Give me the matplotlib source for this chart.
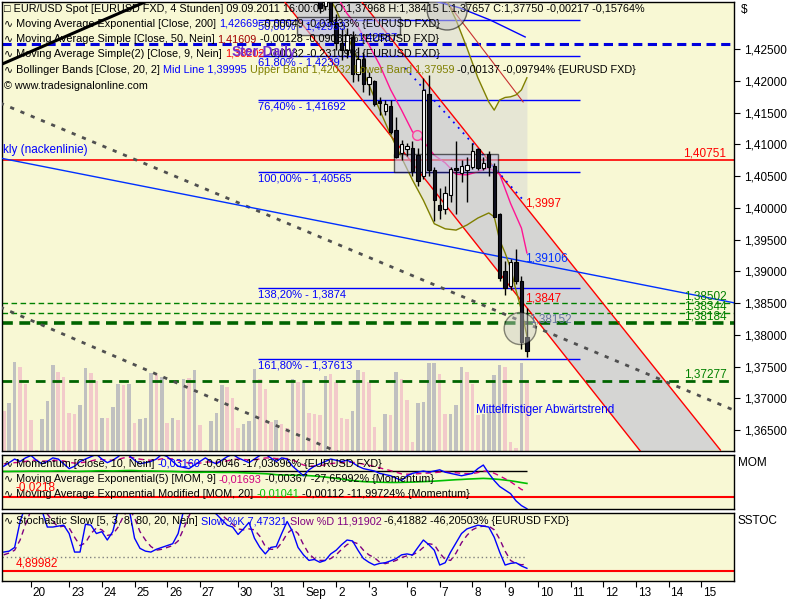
import numpy as np
import matplotlib
matplotlib.use("Agg")
from matplotlib import pyplot as plt
from matplotlib.patches import Ellipse, Polygon, Rectangle
from matplotlib.text import Annotation
from matplotlib.ticker import FuncFormatter

plt.rcParams['font.family'] = ['Liberation Sans', 'DejaVu Sans']

W, H = 800, 600
BG = '#f8f8d4'

# 4h candles, the last one is 09.09.2011 16:00
c_open = [1.4332, 1.4318, 1.4338, 1.4292, 1.4260, 1.4249, 1.4270, 1.4211, 1.4235, 1.4195,
          1.4200, 1.4168, 1.4152, 1.4160, 1.4122, 1.4086, 1.4092, 1.4095, 1.4083, 1.4050,
          1.4180, 1.4060, 1.4005, 1.3999, 1.4020, 1.4063, 1.4055, 1.4060, 1.4065, 1.4092,
          1.4063, 1.4085, 1.4066, 1.3990, 1.3900, 1.3877, 1.3915, 1.3885, 1.37968]
c_high = [1.4336, 1.4345, 1.4350, 1.4305, 1.4284, 1.4284, 1.4278, 1.4253, 1.4246, 1.4214,
          1.4202, 1.4175, 1.4170, 1.4170, 1.4143, 1.4107, 1.4102, 1.4106, 1.4095, 1.4205,
          1.4210, 1.4065, 1.4032, 1.4035, 1.4065, 1.4105, 1.4075, 1.4080, 1.4103, 1.4095,
          1.4080, 1.4090, 1.4070, 1.3992, 1.3916, 1.3920, 1.3935, 1.3892, 1.38415]
c_low = [1.4307, 1.4312, 1.4290, 1.4249, 1.4233, 1.4236, 1.4199, 1.4200, 1.4183, 1.4178,
         1.4160, 1.4146, 1.4146, 1.4117, 1.4078, 1.4075, 1.4082, 1.4050, 1.4035, 1.4045,
         1.4050, 1.3980, 1.3983, 1.3990, 1.4010, 1.3990, 1.4040, 1.4010, 1.4062, 1.4060,
         1.4060, 1.4050, 1.3985, 1.3885, 1.3862, 1.3870, 1.3880, 1.3778, 1.37657]
c_close = [1.4315, 1.4340, 1.4295, 1.4260, 1.4249, 1.4272, 1.4211, 1.4235, 1.4195, 1.4206,
           1.4163, 1.4166, 1.4163, 1.4119, 1.4080, 1.4100, 1.4098, 1.4058, 1.4043, 1.4185,
           1.4060, 1.4012, 1.3997, 1.4023, 1.4062, 1.4060, 1.4066, 1.4068, 1.4090, 1.4063,
           1.4070, 1.4065, 1.3986, 1.3890, 1.3874, 1.3915, 1.3885, 1.3788, 1.37750]

volume = [40, 48, 89, 84, 67, 31, 1, 32, 50, 86,
          79, 74, 38, 37, 46, 83, 78, 70, 33, 33,
          44, 67, 66, 67, 28, 32, 33, 78, 77, 74,
          28, 33, 31, 72, 73, 81, 26, 1, 30, 38,
          66, 64, 53, 23, 27, 30, 82, 72, 62, 29, 31,
          27, 23, 72, 69, 69, 38, 37, 36, 75, 77,
          69, 33, 32, 40, 81, 79, 69, 24, 1, 37,
          36, 79, 72, 51, 9, 48, 49, 88, 88, 77,
          37, 37, 46, 84, 79, 67, 36, 37, 39, 76,
          86, 84, 9, 3, 88, 69]
vol_up = "pggppppggg" "ppppggppgp" "ggpgpgggpg" "pgpgpgppgg" "gpppgggpppg" \
         "ppgpgpppgp" "pppggppppg" "pgpppggggp" "pgggpppggg" "gpppgp"

# SMA 9 (pink)
sma_bars = [56, 58, 60, 62, 64, 66, 68, 70, 72, 74, 76, 78, 80, 82, 84, 86, 88, 90, 91]
sma_vals = [1.4336, 1.4306, 1.4285, 1.4257, 1.4225, 1.4186, 1.4154, 1.4120, 1.4105, 1.4083,
            1.4071, 1.4053, 1.4052, 1.4057, 1.4063, 1.4053, 1.4007, 1.3968, 1.3929]

# Bollinger Bands [20, 2]
bb_bars = [54, 56, 58, 60, 62, 64, 66, 68, 70, 72, 74, 76, 78, 80, 82, 84, 85, 86, 87, 88, 89, 90, 91]
bb_upper = [1.452, 1.451, 1.450, 1.449, 1.448, 1.4465, 1.445, 1.443, 1.441, 1.439, 1.4367, 1.4332,
            1.4296, 1.4252, 1.4205, 1.4167, 1.4154, 1.4170, 1.4174, 1.4175, 1.4178, 1.4186, 1.4205]
bb_lower = [1.4343, 1.4312, 1.4272, 1.4233, 1.4194, 1.4154, 1.4115, 1.4079, 1.4044, 1.4012, 1.3975,
            1.3967, 1.3965, 1.3973, 1.3984, 1.3992, 1.3986, 1.3949, 1.3929, 1.3905, 1.3870, 1.3839, 1.3798]

fib_pct = ["50,00%", "61,80%", "76,40%", "100,00%", "138,20%", "161,80%"]
fib_vals = [1.42953, 1.4239, 1.41692, 1.40565, 1.3874, 1.37613]
fib_txt = ["1,42953", "1,4239", "1,41692", "1,40565", "1,3874", "1,37613"]

green_levels = [1.38502, 1.38344, 1.38184, 1.37277]
red_level = 1.40751
blue_level = 1.42587

# trend lines, (bar, price) end points
chan_lo = [(46.26, 1.43278), (111.8, 1.36169)]
chan_hi = [(60.39, 1.43278), (126.5, 1.36184)]
dark_red = [(75.99, 1.43278), (90.31, 1.41669)]
neck = [(-5.69, 1.40786), (129.2, 1.38501)]
grey1 = [(-5.69, 1.41653), (128.9, 1.36815)]
grey2 = [(-5.69, 1.38438), (56.7, 1.36138)]
black_tl = [(-5.69, 1.42252), (21.84, 1.43278)]
blue_dots = [(68.65, 1.42204), (90.31, 1.40124)]
blue_arc_b = [73.24, 78.74, 84.25, 90.68]
blue_arc_p = [1.43278, 1.43150, 1.42961, 1.42693]

# momentum panel
mom = [0.004, 0.007, 0.010, 0.008, 0.011, 0.013, 0.009, 0.006, 0.008, 0.011, 0.010, 0.006, 0.002,
       0.004, 0.008, 0.010, 0.012, 0.014, 0.010, 0.007, 0.009, 0.012, 0.016, 0.013, 0.009, 0.006,
       0.007,
       0.008, 0.010, 0.014, 0.012, 0.008, 0.004, 0.003, 0.002, 0.005, 0.008, 0.011, 0.008, 0.006,
       0.009, 0.012, 0.014, 0.011, 0.009, 0.007, 0.010, 0.013, 0.014, 0.011, 0.008, 0.011, 0.010,
       0.004, 0.000, -0.004, 0.001, 0.004, 0.006, 0.008, 0.010, 0.009, 0.008, 0.009, 0.007, 0.004,
       0.002, 0.001,
       0.000, -0.002, -0.003, -0.004, -0.006, -0.008, -0.004, -0.002, -0.001, 0.000, -0.001, 0.000,
       0.001, -0.001, -0.002, -0.003, -0.004, -0.003, -0.002, 0.002, 0.005, -0.002, -0.008, -0.013,
       -0.016, -0.019, -0.025, -0.029, -0.0316]
mom_ema = [0.006, 0.0063, 0.0070, 0.0072, 0.0080, 0.0090, 0.0090, 0.0084, 0.0083, 0.0088, 0.0090,
           0.0084, 0.0072, 0.0066, 0.0069, 0.0075, 0.0084, 0.0095, 0.0096, 0.0091, 0.0091, 0.0097,
           0.0110, 0.0114, 0.0109, 0.0099, 0.0093,
           0.0090, 0.0092, 0.0102, 0.0106, 0.0101, 0.0089, 0.0077, 0.0066, 0.0063, 0.0066, 0.0075,
           0.0076, 0.0073, 0.0076, 0.0085, 0.0096, 0.0099, 0.0097, 0.0092, 0.0094, 0.0101, 0.0109,
           0.0110, 0.0104, 0.0105, 0.0104, 0.0091, 0.0073, 0.0050, 0.0042, 0.0042, 0.0045, 0.0052,
           0.0062, 0.0067, 0.0070, 0.0074, 0.0073, 0.0067, 0.0057, 0.0048,
           0.0038, 0.0026, 0.0014, 0.0003, -0.0010, -0.0024, -0.0027, -0.0026, -0.0023, -0.0019,
           -0.0017, -0.0014, -0.0009, -0.0009, -0.0011, -0.0015, -0.0020, -0.0022, -0.0022, -0.0013,
           0.0000, -0.0004, -0.0019, -0.0041, -0.0065, -0.0090, -0.0122, -0.0155, -0.01693]
mom_mod = [-0.0004, -0.0004, -0.0003, -0.0003, -0.0002, -0.0001, -0.0001, -0.0002, -0.0002, -0.0001,
           0.0000, 0.0000, -0.0002, -0.0003, -0.0003, -0.0002, -0.0001, 0.0001, 0.0002, 0.0001,
           0.0000, 0.0001, 0.0003, 0.0004, 0.0003, 0.0001, 0.0000,
           0.0000, -0.0001, -0.0002, -0.0003, -0.0004, -0.0006, -0.0008, -0.0010, -0.0011, -0.0011,
           -0.0010, -0.0010, -0.0011, -0.0012, -0.0012, -0.0012, -0.0013, -0.0015, -0.0017, -0.0019,
           -0.0021, -0.0023, -0.0026, -0.0031, -0.0033, -0.0034, -0.0035, -0.0036, -0.0037, -0.0039,
           -0.0042, -0.0046, -0.0051, -0.0056, -0.0062, -0.0068, -0.0074, -0.0080, -0.0085, -0.0089,
           -0.0091,
           -0.0092, -0.0094, -0.0095, -0.0096, -0.0096, -0.0095, -0.0094, -0.0093, -0.0091, -0.0089,
           -0.0087, -0.0085, -0.0082, -0.0079, -0.0076, -0.0073, -0.0071, -0.0068, -0.0066, -0.0064,
           -0.0062, -0.0064, -0.0067, -0.0071, -0.0076, -0.0082, -0.0089, -0.0097, -0.01041]
mom_red = -0.0218

# stochastic panel
slow_k = [25, 26, 30, 58, 75, 78, 76, 70, 52, 52, 53, 54, 45, 25, 25, 55, 54, 45, 47, 38, 47, 70,
          75, 72, 40, 29, 26,
          25, 28, 30, 32, 34, 45, 70, 78, 80, 76, 72, 70, 66, 60, 54, 52, 44, 50, 57, 40, 30, 23,
          30, 31, 45, 58, 47, 30, 22, 16, 17, 14, 16, 23, 27, 33, 38, 37, 27, 18, 14,
          11, 12.8, 13.5, 15.5, 18, 22, 23, 21.8, 30, 38, 33, 27, 11, 13.5, 25, 35, 45, 50, 52,
          54, 53, 52, 41, 25, 11, 12.8, 13.5, 10, 7.47321]
slow_d = [22, 24, 27, 38, 55, 70, 76, 75, 66, 58, 52, 53, 51, 41, 32, 35, 45, 51, 49, 43, 44, 52,
          64, 72, 62, 47, 38,
          31, 27, 28, 30, 32, 37, 50, 64, 76, 78, 76, 73, 69, 65, 60, 55, 50, 49, 50, 49, 42, 31,
          28, 28, 35, 45, 50, 45, 33, 23, 18, 16, 16, 18, 22, 28, 33, 36, 34, 27, 22,
          19, 14, 12.5, 14, 16, 19, 21, 22, 25, 30, 34, 33, 24, 17, 16, 24, 35, 43, 49, 52, 53,
          53, 49, 39, 26, 16, 12.5, 11.3, 11.91902]
stoch_level = 20
stoch_red = 4.89982

day_bars = [0, 7, 13, 19, 25, 31, 38, 44, 50, 56, 62, 69, 75, 81, 87, 93, 99, 105, 111, 117, 123]
day_labels = ["20", "23", "24", "25", "26", "27", "30", "31", "Sep", "2", "3", "6", "7", "8", "9",
              "10", "11", "12", "13", "14", "15"]


def end_bars(vals):
    return np.arange(92 - len(vals), 92)


fig = plt.figure(figsize=(8, 6), dpi=100, facecolor='white')
XL = (-5.32, 129.0)

vol_ax = fig.add_axes([0.0025, 0.24833, 0.915, 0.74833], facecolor=BG, zorder=0)
ax = fig.add_axes([0.0025, 0.24833, 0.915, 0.74833], facecolor='none', zorder=1)
mom_ax = fig.add_axes([0.0025, 0.15167, 0.915, 0.09], facecolor=BG)
st_ax = fig.add_axes([0.0025, 0.03233, 0.915, 0.11267], facecolor=BG)

# volume
vb = end_bars(volume)
vol_ax.bar(vb, volume, width=0.65,
           color=['#c0c0c0' if c == 'g' else '#f2caca' for c in vol_up], linewidth=0)
vol_ax.set_xlim(*XL)
vol_ax.set_ylim(0, 449)
vol_ax.set_xticks([])
vol_ax.set_yticks([])
for s in vol_ax.spines.values():
    s.set_visible(False)

# main price panel
ax.set_xlim(*XL)
ax.set_ylim(1.36169, 1.43244)

ax.fill_between(bb_bars, bb_lower, bb_upper, color='#e6e6d4', lw=0, zorder=1)
ax.add_patch(Polygon([chan_lo[0], chan_hi[0], chan_hi[1], chan_lo[1]], closed=True,
                     facecolor='#d5d5d3', edgecolor='none', zorder=1.2))
for ln in (chan_lo, chan_hi):
    ax.plot([ln[0][0], ln[1][0]], [ln[0][1], ln[1][1]], color='#ff0000', lw=1, zorder=3)
ax.plot([dark_red[0][0], dark_red[1][0]], [dark_red[0][1], dark_red[1][1]], color='#c83030', lw=0.8, zorder=3)

ax.hlines(fib_vals, 41.67, 100.8, color='#0000ff', lw=1, zorder=2)
for pct, v, t in zip(fib_pct, fib_vals, fib_txt):
    ax.text(41.67, v - 0.0002, f"{pct} - {t}", color='#0000ff', fontsize=8, va='top', ha='left', zorder=6)

ax.axhline(red_level, color='#ff0000', lw=1.2, zorder=2)
ax.axhline(blue_level, color='#0000dd', lw=2.2, ls=(0, (3, 1.8)), zorder=2)
ax.axhline(green_levels[0], color='#008000', lw=1, ls=(0, (4, 2.5)), zorder=2)
ax.axhline(green_levels[1], color='#008000', lw=1, ls=(0, (4, 2.5)), zorder=2)
ax.axhline(green_levels[2], color='#006400', lw=2.6, ls=(0, (3, 1.8)), zorder=2)
ax.axhline(green_levels[3], color='#006400', lw=2.0, ls=(0, (3.5, 2.5)), zorder=2)

for ln in (grey1, grey2):
    ax.plot([ln[0][0], ln[1][0]], [ln[0][1], ln[1][1]], color='#505050', lw=2, ls=(0, (1.5, 2.5)), zorder=3)
ax.plot([neck[0][0], neck[1][0]], [neck[0][1], neck[1][1]], color='#0030ff', lw=1, zorder=3)
ax.plot([black_tl[0][0], black_tl[1][0]], [black_tl[0][1], black_tl[1][1]], color='black', lw=2.2, zorder=3)
ax.plot([blue_dots[0][0], blue_dots[1][0]], [blue_dots[0][1], blue_dots[1][1]], color='#0000ff', lw=1.3,
        ls=(0, (1, 3)), zorder=3)
ax.plot(blue_arc_b, blue_arc_p, color='#0000ff', lw=1, zorder=3)

ax.plot(bb_bars, bb_upper, color='#808000', lw=1, zorder=3)
ax.plot(bb_bars, bb_lower, color='#808000', lw=1, zorder=3)
ax.plot(sma_bars, sma_vals, color='#ff1493', lw=1, zorder=3)
ax.plot([70.85], [1.41149], 'o', ms=7, mfc='#d8c8d0', mec='#ff40a0', mew=1, zorder=4)

ax.add_patch(Rectangle((48.83, 1.42724), 67.73 - 48.83, 1.43008 - 1.42724, facecolor='#c8c8e8',
                       alpha=0.6, edgecolor='black', lw=1, zorder=3.5))
ax.add_patch(Rectangle((66.63, 1.40566), 85.72 - 66.63, 1.40849 - 1.40566, facecolor='#c4c4e4',
                       alpha=0.6, edgecolor='black', lw=1, zorder=3.5))

# candles
cb = end_bars(c_open)
ax.vlines(cb, c_low, c_high, color='black', lw=1, zorder=4)
body_lo = np.minimum(c_open, c_close)
body_h = np.abs(np.array(c_close) - np.array(c_open))
ax.bar(cb, body_h, bottom=body_lo, width=0.62,
       color=['white' if c > o else '#101020' for o, c in zip(c_open, c_close)],
       edgecolor='black', lw=0.8, zorder=5)

ax.add_patch(Ellipse((76.36, 1.43118), 7.34, 0.0063, facecolor='#c8c8c8', alpha=0.55,
                     edgecolor='black', lw=1, zorder=6))
ax.add_patch(Ellipse((89.76, 1.38099), 5.87, 0.00504, facecolor='#c8c8c8', alpha=0.45,
                     edgecolor='black', lw=1, zorder=6))

# labels in main panel
ax.text(119.6, red_level + 0.0001, "1,40751", color='#ff0000', fontsize=8.5, va='bottom', zorder=7)
for v, t in zip(green_levels, ["1,38502", "1,38344", "1,38184", "1,37277"]):
    ax.text(119.8, v + 0.0001, t, color='#008000', fontsize=8.5, va='bottom', zorder=7)
ax.text(90.7, 1.3997, "1,3997", color='#ff0000', fontsize=8.5, va='bottom', zorder=7)
ax.text(90.7, 1.39106, "1,39106", color='#0030ff', fontsize=8.5, va='bottom', zorder=7)
ax.text(90.7, 1.3847, "1,3847", color='#ff0000', fontsize=8.5, va='bottom', zorder=7)
ax.text(91.4, 1.38152, "1,38152", color='#6878a0', fontsize=8.5, va='bottom', zorder=7)
ax.text(59.8, blue_level + 0.0002, "1,42587", color='#0000ff', fontsize=8, va='bottom', zorder=7)
ax.text(81.7, 1.36812, "Mittelfristiger Abwärtstrend", color='#0000ff', fontsize=8.5, va='center', zorder=7)
ax.text(-5.2, 1.40815, "kly (nackenlinie)", color='#0000ff', fontsize=8.5, va='bottom', zorder=7)

ax.yaxis.tick_right()
ax.set_yticks(np.arange(1.365, 1.4251, 0.005))
ax.yaxis.set_major_formatter(FuncFormatter(lambda v, p: f"{v:.5f}".replace('.', ',')))
ax.tick_params(axis='y', direction='out', length=4, pad=3, labelsize=8.5)
ax.set_xticks([])

# momentum
mom_ax.set_xlim(*XL)
mom_ax.set_ylim(-0.03185, 0.01341)
mom_ax.hlines(0, XL[0], 91, color='black', lw=1)
mom_ax.axhline(mom_red, color='#ff0000', lw=1.5)
mom_ax.plot(end_bars(mom_mod), mom_mod, color='#00c000', lw=1.2)
mom_ax.plot(end_bars(mom_ema), mom_ema, color='#d0007f', lw=1, ls=(0, (4, 3)))
mom_ax.plot(end_bars(mom), mom, color='#0000ff', lw=1)
mom_ax.set_xticks([])
mom_ax.set_yticks([])

# stochastic
st_ax.set_xlim(*XL)
st_ax.set_ylim(-5.78, 67.14)
st_ax.hlines(stoch_level, XL[0], 91, color='#808080', lw=1, ls=(0, (1, 2)))
st_ax.axhline(stoch_red, color='#ff0000', lw=1.5)
st_ax.plot(end_bars(slow_d), slow_d, color='#800080', lw=1, ls=(0, (4, 3)))
st_ax.plot(end_bars(slow_k), slow_k, color='#0000ff', lw=1)
st_ax.set_yticks([])
st_ax.set_xticks(day_bars)
st_ax.set_xticklabels([])
st_ax.tick_params(axis='x', direction='out', length=4)
xt = st_ax.get_xaxis_transform()
for b, lab in zip(day_bars, day_labels):
    st_ax.text(b + 0.35, -0.09, lab, transform=xt, fontsize=8.5, ha='left', va='top', clip_on=False)

for a in (ax, mom_ax, st_ax):
    for s in a.spines.values():
        s.set_color('black')
        s.set_linewidth(1)


def colored_line(x_px, y_px, parts, size=7.8):
    t = fig.text(x_px / W, 1 - y_px / H, parts[0][0], color=parts[0][1], fontsize=size,
                 va='center', ha='left', zorder=10)
    for s, c in parts[1:]:
        a = Annotation(s, xy=(1, 0), xycoords=t, va='bottom', ha='left', color=c, fontsize=size,
                       annotation_clip=False, zorder=10)
        fig.add_artist(a)
        t = a


K = 'black'
colored_line(4, 9, [("□ EUR/USD Spot [EURUSD FXD, 4 Stunden] 09.09.2011 16:00:00 - O:1,37968 H:1,38415 "
                     "L:1,37657 C:1,37750 -0,00217 -0,15764%", K)])
colored_line(4, 24, [("∿ Moving Average Exponential [Close, 200] ", K), ("1,42669", '#0000ff'),
                     (" -0,00049 -0,03433% {EURUSD FXD}", K)])
colored_line(4, 39, [("∿ Moving Average Simple [Close, 50, Nein] ", K), ("1,41609", '#a00000'),
                     (" -0,00128 -0,09031% {EURUSD FXD}", K)])
colored_line(4, 54, [("∿ Moving Average Simple(2) [Close, 9, Nein] ", K), ("1,38202", '#ff0000'),
                     (" -0,0032 -0,23109% {EURUSD FXD}", K)])
colored_line(4, 70, [("∿ Bollinger Bands [Close, 20, 2] ", K), ("Mid Line 1,39995", '#0000ff'),
                     (" Upper Band 1,42032 Lower Band 1,37959", '#808000'),
                     (" -0,00137 -0,09794% {EURUSD FXD}", K)])
colored_line(4, 86, [("© www.tradesignalonline.com", K)])
fig.text(232 / W, 1 - 52 / H, "Ster-Daily", color='#7030d0', fontsize=10, fontweight='bold',
         va='center', zorder=11)

colored_line(4, 464, [("∿ Momentum [Close, 10, Nein] ", K), ("-0,03160", '#0000ff'),
                      (" -0,0046 -17,03696% {EURUSD FXD}", K)])
colored_line(4, 479, [("∿ Moving Average Exponential(5) [MOM, 9] ", K), ("-0,01693", '#d0007f'),
                      (" -0,00367 -27,65992% {Momentum}", K)])
colored_line(4, 494, [("∿ Moving Average Exponential Modified [MOM, 20] ", K), ("-0,01041", '#00c000'),
                      (" -0,00112 -11,99724% {Momentum}", K)])
fig.text(16 / W, 1 - 487 / H, "-0,0218", color='#ff0000', fontsize=8.5, va='center', zorder=11)
colored_line(4, 521, [("∿ Stochastic Slow [5, 3, 8, 80, 20, Nein] ", K), ("Slow %K 7,47321", '#0000ff'),
                      (" Slow %D 11,91902", '#800080'), (" -6,41882 -46,20503% {EURUSD FXD}", K)])
fig.text(16 / W, 1 - 563 / H, "4,89982", color='#ff0000', fontsize=8.5, va='center', zorder=11)

fig.text(741 / W, 1 - 10 / H, "$", fontsize=8.5, va='center')
fig.text(738 / W, 1 - 463 / H, "MOM", fontsize=8.5, va='center')
fig.text(738 / W, 1 - 521 / H, "SSTOC", fontsize=8.5, va='center')

fig.savefig("out.png", dpi=100, facecolor='white')
